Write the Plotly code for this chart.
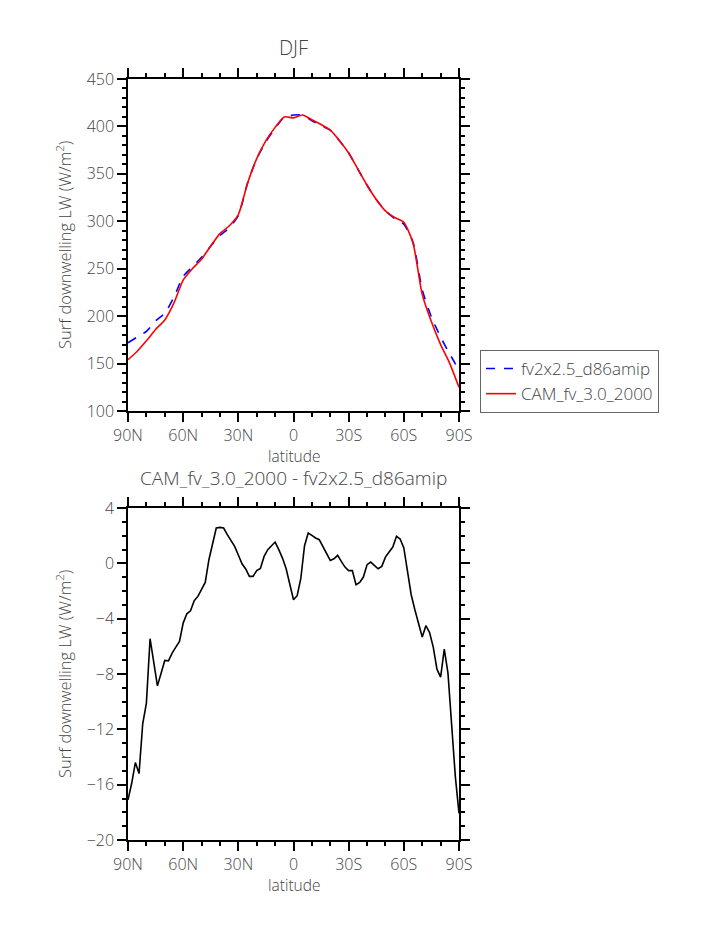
import plotly.graph_objects as go

# ---- data ----
lat_top = [90, 85, 80, 75, 70, 65, 60, 55, 50, 45, 40, 35, 30, 25, 20, 15, 10, 5, 0,
           -5, -10, -15, -20, -25, -30, -35, -40, -45, -50, -55, -60, -65, -70, -75, -80, -85, -90]

fv2x25_d86amip = [172, 178, 184, 195, 203, 220, 242, 252, 262, 274, 285, 293, 306, 340, 366, 384, 398, 410, 412,
                  412, 406, 401, 396, 385, 372, 355, 338, 323, 311, 303, 297, 278, 228, 199, 178, 160, 143]

cam_fv_30_2000 = [154, 163, 174, 186, 196, 214, 238, 250, 260, 274, 287, 295, 307, 340, 366, 385, 399, 410, 409,
                  412, 407, 402, 396, 385, 372, 355, 338, 323, 311, 304, 299, 277, 223, 194, 170, 150, 125]

lat_diff = [90, 88, 86, 84, 82, 80, 78, 76, 74, 72, 70, 68, 66, 64, 62, 60, 58, 56, 54, 52,
            50, 48, 46, 44, 42, 40, 38, 36, 34, 32, 30, 28, 26, 24, 22, 20, 18, 16, 14, 12,
            10, 8, 6, 4, 2, 0, -2, -4, -6, -8, -10, -12, -14, -16, -18, -20, -22, -24, -26, -28,
            -30, -32, -34, -36, -38, -40, -42, -44, -46, -48, -50, -52, -54, -56, -58, -60,
            -62, -64, -66, -68, -70, -72, -74, -76, -78, -80, -82, -84, -86, -88, -90]

diff = [-17.1, -15.9, -14.4, -15.2, -11.6, -10.1, -5.45, -7.2, -8.86, -7.94, -7.02, -7.05, -6.49, -6.06, -5.65, -4.32,
        -3.65, -3.43, -2.7, -2.39, -1.86, -1.38, 0.26, 1.35, 2.55, 2.6, 2.55, 2.07, 1.64, 1.23,
        0.6, -0.03, -0.41, -0.94, -0.94, -0.53, -0.37, 0.5, 0.99, 1.23, 1.54, 0.99, 0.38, -0.39, -1.43,
        -2.63, -2.34, -1.07, 1.27, 2.19, 2.02, 1.83, 1.71, 1.23, 0.74, 0.21, 0.33, 0.58, 0.14, -0.27,
        -0.53, -0.53, -1.55, -1.38, -0.99, -0.1, 0.09, -0.15, -0.39, -0.22, 0.45, 0.82, 1.18, 1.95, 1.76, 1.11,
        -0.46, -2.27, -3.36, -4.32, -5.33, -4.51, -5.0, -6.06, -7.65, -8.23, -6.2, -7.94, -11.56, -15.4, -18.07]

lat_ticks = [90, 60, 30, 0, -30, -60, -90]
lat_labels = ["90N", "60N", "30N", "0", "30S", "60S", "90S"]

FONT = "Open Sans"
TXT = "#444444"
W, H = 723, 935
OFF = 8  # page body margin pushes the figure right/down


def px_x(px):
    return (px - OFF) / W


def px_y(py):
    return 1 - (py - OFF) / H


fig = go.Figure()

fig.add_trace(go.Scatter(
    x=lat_top, y=fv2x25_d86amip, mode="lines", name="fv2x2.5_d86amip",
    line=dict(color="blue", width=1.6, dash="dash", shape="spline", smoothing=0.6),
    xaxis="x", yaxis="y",
))
fig.add_trace(go.Scatter(
    x=lat_top, y=cam_fv_30_2000, mode="lines", name="CAM_fv_3.0_2000",
    line=dict(color="red", width=1.6, shape="spline", smoothing=0.6),
    xaxis="x", yaxis="y",
))
fig.add_trace(go.Scatter(
    x=lat_diff, y=diff, mode="lines", showlegend=False,
    line=dict(color="black", width=1.6),
    xaxis="x2", yaxis="y2",
))

xdom = [px_x(128), px_x(459)]

common_axis = dict(
    showgrid=False, zeroline=False, showline=True, linecolor="black", linewidth=1.5,
    mirror="allticks", ticks="outside", ticklen=9, tickwidth=1.5, tickcolor="black",
    automargin=False,
    tickfont=dict(family=FONT, size=16, color=TXT, weight=300),
)

fig.update_layout(
    width=W, height=H,
    margin=dict(l=0, r=0, t=0, b=0),
    paper_bgcolor="white", plot_bgcolor="white",
    font=dict(family=FONT, color=TXT),
    xaxis=dict(common_axis, domain=xdom, anchor="y", range=[90, -90],
               tickvals=lat_ticks, ticktext=lat_labels, ticklabelstandoff=0,
               minor=dict(dtick=10, tick0=0, ticks="outside", ticklen=4, tickcolor="black")),
    yaxis=dict(common_axis, domain=[px_y(411), px_y(79)], anchor="x", range=[100, 450],
               dtick=50, minor=dict(dtick=10, ticks="outside", ticklen=4, tickcolor="black")),
    xaxis2=dict(common_axis, domain=xdom, anchor="y2", range=[90, -90],
                tickvals=lat_ticks, ticktext=lat_labels, ticklabelstandoff=0,
                minor=dict(dtick=10, tick0=0, ticks="outside", ticklen=4, tickcolor="black")),
    yaxis2=dict(common_axis, domain=[px_y(840), px_y(508)], anchor="x2", range=[-20, 4],
                dtick=4, minor=dict(dtick=1, ticks="outside", ticklen=4, tickcolor="black")),
    legend=dict(x=px_x(480), y=px_y(350), xanchor="left", yanchor="top",
                bordercolor="#666666", borderwidth=1, bgcolor="white",
                font=dict(family=FONT, size=17, color=TXT, weight=300),
                tracegroupgap=0, itemwidth=30),
)

ytitle = "Surf downwelling LW (W/m<sup>2</sup>)"
notes = [
    ("DJF", 293.5, 48, 20, 0),
    ("latitude", 293.5, 456, 15.5, 0),
    ("CAM_fv_3.0_2000 - fv2x2.5_d86amip", 293.5, 478, 19, 0),
    ("latitude", 293.5, 885, 15.5, 0),
    (ytitle, 64, 245, 16.5, -90),
    (ytitle, 64, 674, 16.5, -90),
]
for text, px, py, size, ang in notes:
    fig.add_annotation(
        text=text, x=px_x(px), y=px_y(py), xref="paper", yref="paper",
        xanchor="center", yanchor="middle", showarrow=False, textangle=ang,
        font=dict(family=FONT, size=size, color=TXT, weight=300),
    )

fig.write_html("out.html")
